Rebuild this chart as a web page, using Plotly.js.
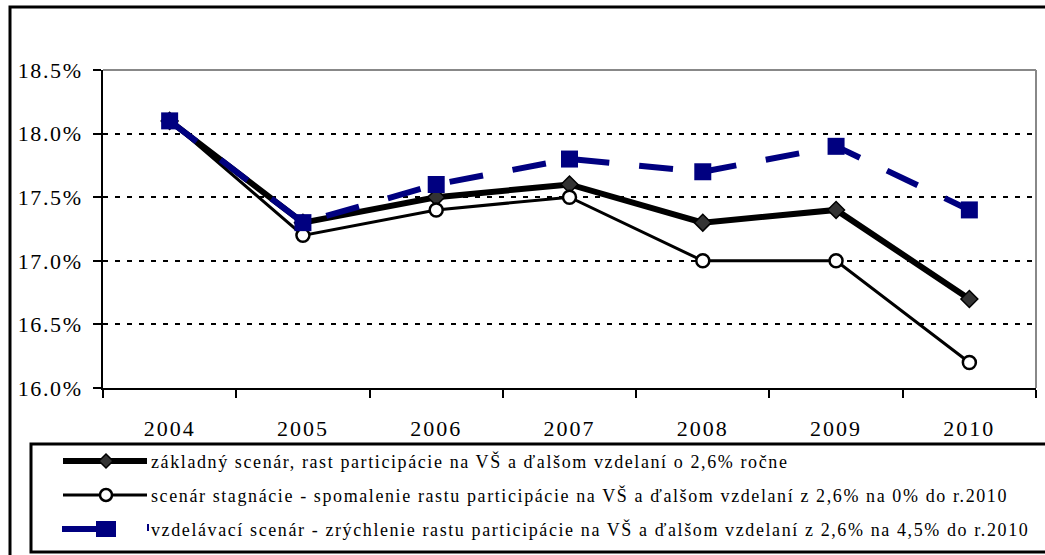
<!DOCTYPE html>
<html>
<head>
<meta charset="utf-8">
<script src="https://cdn.plot.ly/plotly-3.0.1.min.js"></script>
<style>
body{margin:0;padding:0;background:#fff;}
#chart{width:1045px;height:555px;}
</style>
</head>
<body>
<div id="chart"></div>
<script>
const years = ['2004','2005','2006','2007','2008','2009','2010'];
const zakladny = [18.1, 17.3, 17.5, 17.6, 17.3, 17.4, 16.7];
const stagnacia = [18.1, 17.2, 17.4, 17.5, 17.0, 17.0, 16.2];
const vzdelavaci = [18.1, 17.3, 17.6, 17.8, 17.7, 17.9, 17.4];
const yTicks = [16.0, 16.5, 17.0, 17.5, 18.0, 18.5];
const yTickLabels = ['16.0%', '16.5%', '17.0%', '17.5%', '18.0%', '18.5%'];
const legendNames = [
  'základný scenár, rast participácie na VŠ a ďalšom vzdelaní o 2,6% ročne',
  'scenár stagnácie - spomalenie rastu participácie na VŠ a ďalšom vzdelaní z 2,6% na 0% do r.2010',
  'vzdelávací scenár - zrýchlenie rastu participácie na VŠ a ďalšom vzdelaní z 2,6% na 4,5% do r.2010'
];

const W = 1045, H = 555;
const mL = 103, mR = 9, mT = 70, mB = 167;
const pw = W - mL - mR, ph = H - mT - mB;
const X = px => (px - mL) / pw;
const Y = py => (H - mB - py) / ph;

const FAM = 'Liberation Serif';
const sp = (t, ls) => '<span style="letter-spacing:' + ls + 'px">' + t + '</span>';

const traces = [
  {x: years, y: zakladny, name: legendNames[0], type: 'scatter', mode: 'lines+markers',
   line: {color: '#000000', width: 6},
   marker: {symbol: 'diamond', size: 13, color: '#333333', line: {color: '#000000', width: 1.5}}},
  {x: years, y: stagnacia, name: legendNames[1], type: 'scatter', mode: 'lines+markers',
   line: {color: '#000000', width: 3},
   marker: {symbol: 'circle', size: 13, color: '#ffffff', line: {color: '#000000', width: 2.5}}},
  {x: years, y: vzdelavaci, name: legendNames[2], type: 'scatter', mode: 'lines+markers',
   line: {color: '#000080', width: 6, dash: '34px,30px'},
   marker: {symbol: 'square', size: 17, color: '#000080'}}
];

const shapes = [];
shapes.push({type: 'rect', xref: 'paper', yref: 'paper', x0: X(10), x1: X(1050), y0: Y(7), y1: Y(565),
  line: {color: '#000', width: 3}, fillcolor: 'rgba(0,0,0,0)', layer: 'below'});
shapes.push({type: 'line', xref: 'paper', yref: 'paper', x0: 0, x1: 1, y0: 1, y1: 1, line: {color: '#888', width: 2}});
shapes.push({type: 'line', xref: 'paper', yref: 'paper', x0: 1, x1: 1, y0: 0, y1: 1, line: {color: '#888', width: 2}});
shapes.push({type: 'rect', xref: 'paper', yref: 'paper', x0: X(31), x1: X(1050), y0: Y(444), y1: Y(552),
  line: {color: '#000', width: 3}, fillcolor: 'rgba(0,0,0,0)'});

const rows = [461, 495, 529];
shapes.push({type: 'line', xref: 'paper', yref: 'paper', x0: X(63), x1: X(147), y0: Y(rows[0]), y1: Y(rows[0]), line: {color: '#000', width: 6}});
shapes.push({type: 'line', xref: 'paper', yref: 'paper', x0: X(63), x1: X(147), y0: Y(rows[1]), y1: Y(rows[1]), line: {color: '#000', width: 3}});
shapes.push({type: 'line', xref: 'paper', yref: 'paper', x0: X(62), x1: X(100), y0: Y(rows[2]), y1: Y(rows[2]), line: {color: '#000080', width: 6}});
shapes.push({type: 'line', xref: 'paper', yref: 'paper', x0: X(148), x1: X(148), y0: Y(524), y1: Y(531), line: {color: '#000080', width: 2}});
shapes.push({type: 'path', xref: 'paper', yref: 'paper', xsizemode: 'pixel', ysizemode: 'pixel',
  xanchor: X(106), yanchor: Y(rows[0]), path: 'M0,7 L7,0 L0,-7 L-7,0 Z',
  fillcolor: '#333', line: {color: '#000', width: 1.5}});
shapes.push({type: 'circle', xref: 'paper', yref: 'paper', xsizemode: 'pixel', ysizemode: 'pixel',
  xanchor: X(106), yanchor: Y(rows[1]), x0: -6, x1: 6, y0: -6, y1: 6,
  fillcolor: '#fff', line: {color: '#000', width: 2.5}});
shapes.push({type: 'rect', xref: 'paper', yref: 'paper', xsizemode: 'pixel', ysizemode: 'pixel',
  xanchor: X(106), yanchor: Y(rows[2]), x0: -10, x1: 10, y0: -8, y1: 8,
  fillcolor: '#000080', line: {width: 0}});

const annotations = legendNames.map((t, i) => ({
  text: sp(t, 1.6), xref: 'paper', yref: 'paper', x: X(149), y: Y(rows[i]),
  xanchor: 'left', yanchor: 'middle', showarrow: false,
  font: {family: FAM, size: 18, color: '#000000'}
}));

const layout = {
  width: W, height: H,
  margin: {l: mL, r: mR, t: mT, b: mB, pad: 0},
  paper_bgcolor: '#ffffff', plot_bgcolor: '#ffffff',
  showlegend: false,
  xaxis: {
    type: 'category', range: [-0.5, 6.5], tickvals: years, ticktext: years.map(y => sp(y, 2)),
    tickson: 'boundaries', ticks: 'outside', ticklen: 8, tickwidth: 2, tickcolor: '#000',
    showline: true, linecolor: '#000', linewidth: 2, showgrid: false, zeroline: false,
    tickfont: {family: FAM, size: 22, color: '#000000'}, ticklabelstandoff: 20
  },
  yaxis: {
    range: [16.0, 18.5], tickvals: yTicks, ticktext: yTickLabels.map(t => sp(t, 1.6)),
    ticks: 'outside', ticklen: 8, tickwidth: 2, tickcolor: '#000',
    showline: true, linecolor: '#000', linewidth: 2,
    showgrid: true, gridcolor: '#000', gridwidth: 2, griddash: '5px,7px', zeroline: false,
    tickfont: {family: FAM, size: 22, color: '#000000'}, ticklabelstandoff: 6
  },
  shapes: shapes,
  annotations: annotations
};

const draw = () => Plotly.newPlot('chart', traces, layout, {displayModeBar: false});
if (document.fonts && document.fonts.load) {
  document.fonts.load('20px "Liberation Serif"').then(draw, draw);
} else { draw(); }
</script>
</body>
</html>
